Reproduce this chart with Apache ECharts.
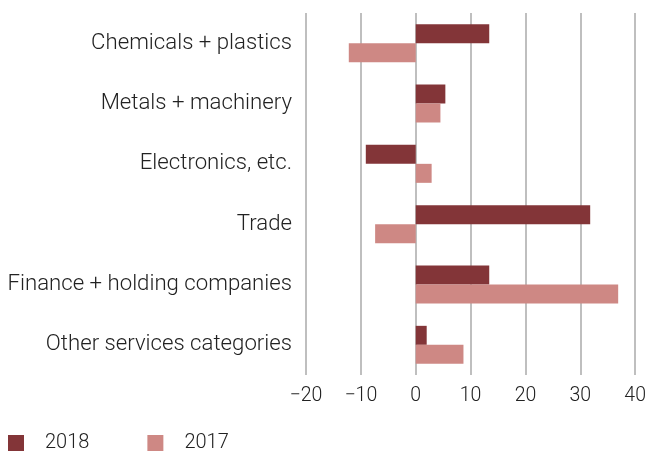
<!DOCTYPE html>
<html><head><meta charset="utf-8">
<script src="https://cdn.jsdelivr.net/npm/echarts@6/dist/echarts.min.js"></script>
<style>html,body{margin:0;padding:0;background:#fff}#c{width:649px;height:452px}</style>
</head><body><div id="c"></div>
<script>
const categories = ["Chemicals + plastics", "Metals + machinery", "Electronics, etc.", "Trade", "Finance + holding companies", "Other services categories"];
const values2018 = [13.4, 5.4, -9.1, 31.8, 13.4, 2.0];
const values2017 = [-12.2, 4.5, 2.9, -7.4, 36.9, 8.7];
const seriesNames = ["2018", "2017"];

const chart = echarts.init(document.getElementById('c'));
const font = 'Roboto, "Liberation Sans", sans-serif';
chart.setOption({
  animation: false,
  textStyle: {fontFamily: font},
  grid: {left: 306, right: 13, top: 13, bottom: 77, containLabel: false},
  legend: {
    left: 8, top: 433, padding: 0, itemWidth: 16, itemHeight: 16, itemGap: 58,
    icon: 'rect',
    textStyle: {fontSize: 20, color: '#222', fontFamily: font, fontWeight: 300, padding: [0,0,0,16]},
    data: seriesNames
  },
  xAxis: {
    type: 'value', min: -20, max: 40, interval: 10,
    axisLine: {show: false}, axisTick: {show: false},
    splitLine: {lineStyle: {color: '#bfbfbf', width: 2}},
    axisLabel: {fontSize: 19.5, color: '#222', fontWeight: 300, margin: 11,
      formatter: v => v < 0 ? '\u2212' + Math.abs(v) : String(v)}
  },
  yAxis: {
    type: 'category', data: categories, inverse: true,
    axisLine: {show: false}, axisTick: {show: false},
    axisLabel: {fontSize: 22.2, color: '#222', fontWeight: 300, margin: 14}
  },
  series: [
    {name: seriesNames[0], type: 'bar', data: values2018, barWidth: 19, barGap: '0%',
     itemStyle: {color: '#833538'}},
    {name: seriesNames[1], type: 'bar', data: values2017, barWidth: 19, barGap: '0%',
     itemStyle: {color: '#ce8884'}}
  ]
});
</script></body></html>
